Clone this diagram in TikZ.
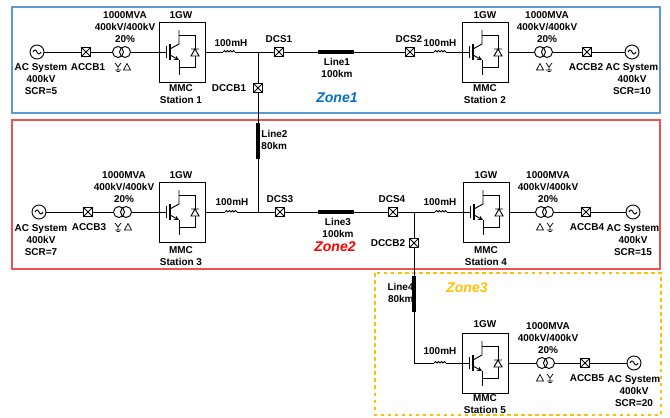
\documentclass[tikz,border=0pt]{standalone}
\usepackage{fontspec}
\setmainfont{Liberation Sans}
\definecolor{zoneblue}{RGB}{91,155,213}
\definecolor{zonebluetxt}{RGB}{0,112,192}
\definecolor{zonered}{RGB}{240,80,80}
\definecolor{zonegold}{RGB}{255,192,0}
\tikzset{
 txt/.style={font=\fontsize{8.5}{10.2}\selectfont\bfseries,inner sep=0pt,align=center},
 zonetxt/.style={font=\fontsize{12}{14}\selectfont\bfseries\itshape,inner sep=0pt},
 brk/.style={draw,fill=white,minimum size=0.27cm,inner sep=0pt,path picture={\draw (path picture bounding box.north west)--(path picture bounding box.south east) (path picture bounding box.south west)--(path picture bounding box.north east);}},
 acsrc/.style={draw,circle,minimum size=0.42cm,inner sep=0pt,path picture={\draw ([xshift=-0.12cm]path picture bounding box.center) sin ++(0.06cm,0.06cm) cos ++(0.06cm,-0.06cm) sin ++(0.06cm,-0.06cm) cos ++(0.06cm,0.06cm);}},
 tcoil/.style={draw,circle,minimum size=0.33cm,inner sep=0pt},
 mmcbox/.style={draw,minimum width=1.38cm,minimum height=1.8cm,inner sep=0pt},
 reactor/.style={minimum width=0.36cm,minimum height=0.2cm,inner sep=0pt,path picture={\draw (path picture bounding box.west) arc[start angle=180,end angle=0,radius=0.045cm] arc[start angle=180,end angle=0,radius=0.045cm] arc[start angle=180,end angle=0,radius=0.045cm] arc[start angle=180,end angle=0,radius=0.045cm];}},
 cablebar/.style={fill=black,inner sep=0pt,minimum width=1.08cm,minimum height=0.12cm},
 cablebarv/.style={fill=black,inner sep=0pt,minimum width=0.12cm,minimum height=1.08cm},
 igbt/.pic={
  \draw (-23,0) -- (-16,0) (-16,-6) -- (-16,6);%gate
  \draw[line width=1.2pt] (-12,-8) -- (-12,8);
  \draw (-12,-3) -- (-3,-8) -- (-3,-22);%collector
  \draw[-stealth] (-12,3) -- (-3,8);%emitter
  \draw (-3,8) -- (-3,23);
  \draw (-3,-17) -- (13,-17) -- (13,-3) (13,4) -- (13,15) -- (-3,15);
  \draw (9,4) -- (17,4) -- (13,-3) -- cycle (9,-3) -- (17,-3);%diode
 },
 gwye/.pic={\draw[line width=0.6pt] (-3,-4) -- (0,0) -- (3,-4) (0,0) -- (0,3) (-3,3) -- (3,3) (-1.5,4.5) -- (1.5,4.5);},
 dlt/.pic={\draw[line width=0.6pt] (-3.5,3) -- (3.5,3) -- (0,-3.5) -- cycle;}
}
\begin{document}
\begin{tikzpicture}[x=0.03cm,y=-0.03cm,line width=0.8pt]
\useasboundingbox (0,0) rectangle (670,417);
\draw[zoneblue,line width=1.2pt] (12,7) rectangle (660,113);%Zone1
\draw[zonered,line width=1.2pt] (12,120) rectangle (660,269);%Zone2
\draw[zonegold,line width=1.2pt,dashed] (375,273) rectangle (661,415);%Zone3
\node[zonetxt,text=zonebluetxt] (z1) at (337,98) {Zone1};
\node[zonetxt,text=red] (z2) at (335,247) {Zone2};
\node[zonetxt,text=zonegold] (z3) at (467,288) {Zone3};
%Station 1
\node[acsrc] (src1) at (37,52) {};
\node[brk] (accb1) at (86,52) {};
\node[tcoil] (tr1a) at (118,52) {};
\node[tcoil] (tr1b) at (125,52) {};
\pic at (118,67) {gwye}; \pic at (127,67) {dlt};
\node[mmcbox] (mmc1) at (182,52) {};
\pic at (mmc1) {igbt};
\node[reactor] (ind1) at (229,52) {};
\coordinate (j1) at (258,52);
\node[txt] (acl1) at (41,79.5) {AC System\\400kV\\SCR=5};
\node[txt] (cbl1) at (88,67) {ACCB1};
\node[txt] (trl1) at (125,27) {1000MVA\\400kV/400kV\\20\%};
\node[txt] (gw1) at (181,15) {1GW};
\node[txt] (st1) at (181,94.5) {MMC\\Station 1};
\node[txt] (il1) at (231,43) {100mH};
%Line1
\node[brk] (dcs1) at (279,52) {};
\node[cablebar] (ln1) at (336,52) {};
\node[brk] (dcs2) at (410,52) {};
\node[txt] (dsl1) at (279,39) {DCS1};
\node[txt] (dsl2) at (409,39) {DCS2};
\node[txt] (lnl1) at (337,67.5) {Line1\\100km};
\node[brk] (dccb1) at (258,88) {};
\node[txt] (dbl1) at (229,88) {DCCB1};
%Station 2
\node[reactor] (ind2) at (440,52) {};
\node[mmcbox] (mmc2) at (485,52) {};
\pic at (mmc2) {igbt};
\node[tcoil] (tr2a) at (540,52) {};
\node[tcoil] (tr2b) at (547,52) {};
\pic at (540,67) {dlt}; \pic at (549,67) {gwye};
\node[brk] (accb2) at (587,52) {};
\node[acsrc] (src2) at (632,52) {};
\node[txt] (il2) at (440,43) {100mH};
\node[txt] (gw2) at (485,15) {1GW};
\node[txt] (st2) at (485,94.5) {MMC\\Station 2};
\node[txt] (trl2) at (547,27) {1000MVA\\400kV/400kV\\20\%};
\node[txt] (cbl2) at (586,67) {ACCB2};
\node[txt] (acl2) at (632,79) {AC System\\400kV\\SCR=10};
\draw (src1) -- (accb1) -- (tr1a);
\draw (tr1b) -- (mmc1) -- (ind1) -- (dcs1) -- (ln1) -- (dcs2) -- (ind2) -- (mmc2) -- (tr2a);
\draw (tr2b) -- (accb2) -- (src2);
%Line2
\node[cablebarv] (ln2) at (258,141) {};
\node[txt,align=left,anchor=west] (lnl2) at (261,139.5) {Line2\\80km};
\coordinate (j2) at (258,212);
\draw (j1) -- (dccb1) -- (ln2) -- (j2);
%Station 3
\node[acsrc] (src3) at (39,212) {};
\node[brk] (accb3) at (88,212) {};
\node[tcoil] (tr3a) at (119,212) {};
\node[tcoil] (tr3b) at (126,212) {};
\pic at (118,227) {gwye}; \pic at (128,227) {dlt};
\node[mmcbox] (mmc3) at (182,212) {};
\pic at (mmc3) {igbt};
\node[reactor] (ind3) at (231,212) {};
\node[txt] (acl3) at (41,240) {AC System\\400kV\\SCR=7};
\node[txt] (cbl3) at (89,227) {ACCB3};
\node[txt] (trl3) at (124,187) {1000MVA\\400kV/400kV\\20\%};
\node[txt] (gw3) at (181,175) {1GW};
\node[txt] (st3) at (181,256) {MMC\\Station 3};
\node[txt] (il3) at (232,202) {100mH};
%Line3
\node[brk] (dcs3) at (280,212) {};
\node[cablebar] (ln3) at (336,212) {};
\node[brk] (dcs4) at (393,212) {};
\coordinate (j3) at (414,212);
\node[txt] (dsl3) at (280,199) {DCS3};
\node[txt] (dsl4) at (392,199) {DCS4};
\node[txt] (lnl3) at (338,227.5) {Line3\\100km};
\node[brk] (dccb2) at (414,243) {};
\node[txt] (dbl2) at (388,243) {DCCB2};
%Station 4
\node[reactor] (ind4) at (441,212) {};
\node[mmcbox] (mmc4) at (486,212) {};
\pic at (mmc4) {igbt};
\node[tcoil] (tr4a) at (541,212) {};
\node[tcoil] (tr4b) at (548,212) {};
\pic at (540,227) {dlt}; \pic at (550,227) {gwye};
\node[brk] (accb4) at (586,212) {};
\node[acsrc] (src4) at (633,212) {};
\node[txt] (il4) at (440,202) {100mH};
\node[txt] (gw4) at (486,175) {1GW};
\node[txt] (st4) at (486,256) {MMC\\Station 4};
\node[txt] (trl4) at (548,187) {1000MVA\\400kV/400kV\\20\%};
\node[txt] (cbl4) at (587,227) {ACCB4};
\node[txt] (acl4) at (633,240) {AC System\\400kV\\SCR=15};
\draw (src3) -- (accb3) -- (tr3a);
\draw (tr3b) -- (mmc3) -- (ind3) -- (dcs3) -- (ln3) -- (dcs4) -- (ind4) -- (mmc4) -- (tr4a);
\draw (tr4b) -- (accb4) -- (src4);
%Line4 and Station 5
\node[cablebarv] (ln4) at (414,294) {};
\node[txt,align=right,anchor=east] (lnl4) at (414,292.5) {Line4\\80km};
\coordinate (c5) at (414,363);
\node[reactor] (ind5) at (440,363) {};
\node[mmcbox] (mmc5) at (485,363) {};
\pic at (mmc5) {igbt};
\node[tcoil] (tr5a) at (542,363) {};
\node[tcoil] (tr5b) at (549,363) {};
\pic at (540,378) {dlt}; \pic at (550,378) {gwye};
\node[brk] (accb5) at (585,363) {};
\node[acsrc] (src5) at (634,363) {};
\node[txt] (il5) at (440,351) {100mH};
\node[txt] (gw5) at (485,324) {1GW};
\node[txt] (st5) at (485,404.5) {MMC\\Station 5};
\node[txt] (trl5) at (548,338) {1000MVA\\400kV/400kV\\20\%};
\node[txt] (cbl5) at (587,378) {ACCB5};
\node[txt] (acl5) at (634,391) {AC System\\400kV\\SCR=20};
\draw (j3) -- (dccb2) -- (ln4) -- (c5) -- (ind5) -- (mmc5) -- (tr5a);
\draw (tr5b) -- (accb5) -- (src5);
\end{tikzpicture}
\end{document}
